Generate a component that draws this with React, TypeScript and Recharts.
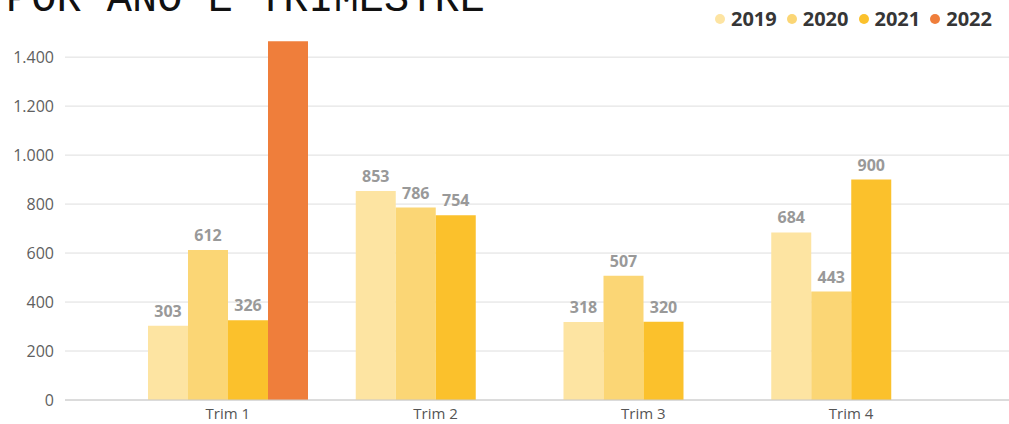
import React from "react";
import { BarChart, Bar, XAxis, YAxis, CartesianGrid, LabelList } from "recharts";

const categories = ["Trim 1", "Trim 2", "Trim 3", "Trim 4"];
const s2019 = [303, 853, 318, 684];
const s2020 = [612, 786, 507, 443];
const s2021 = [326, 754, 320, 900];
const s2022: (number | null)[] = [1465, null, null, null];
const yTicks = [0, 200, 400, 600, 800, 1000, 1200, 1400];

const seriesNames = ["2019", "2020", "2021", "2022"];
const colors = ["#FDE4A2", "#FBD675", "#FBC12C", "#EF7E3B"];

const data = categories.map((c, i) => ({
  cat: c,
  y2019: s2019[i],
  y2020: s2020[i],
  y2021: s2021[i],
  y2022: s2022[i],
}));

const fmt = (v: number) => v.toLocaleString("de-DE");

const LegendBox = () => (
  <div
    style={{
      position: "absolute",
      left: 715,
      top: 6,
      display: "flex",
      alignItems: "center",
      fontFamily: "'Open Sans', sans-serif",
      fontWeight: 700,
      fontSize: 20,
      lineHeight: "26px",
      color: "#363636",
    }}
  >
    {seriesNames.map((n, i) => (
      <div key={n} style={{ display: "flex", alignItems: "center", marginRight: 10 }}>
        <span style={{ display: "inline-block", width: 10, height: 10, borderRadius: 5, background: colors[i], marginRight: 6 }} />
        <span>{n}</span>
      </div>
    ))}
  </div>
);

const labelStyle = { fill: "#999999", fontSize: 16, fontWeight: 700, fontFamily: "'Open Sans', sans-serif" };

export default function App() {
  return (
    <div style={{ position: "absolute", left: 0, top: 0, width: 1009, height: 424, background: "#fff" }}>
      <BarChart
        width={1009}
        height={424}
        data={data}
        margin={{ top: 40, right: 0, left: 0, bottom: 0 }}
        barCategoryGap={24}
        barGap={0}
      >
        <CartesianGrid horizontal vertical={false} stroke="#dedede" syncWithTicks />
        <XAxis
          dataKey="cat"
          height={24}
          padding={{ left: 59, right: 54 }}
          tickLine={false}
          axisLine={{ stroke: "#c8c8c8" }}
          tick={{ fill: "#555555", fontSize: 15, fontFamily: "'Open Sans', sans-serif" }}
          tickMargin={2}
          interval={0}
        />
        <YAxis
          width={65}
          domain={[0, 1470]}
          ticks={yTicks}
          interval={0}
          axisLine={false}
          tickLine={false}
          tickMargin={5}
          tickFormatter={fmt}
          tick={{ fill: "#606060", fontSize: 16, fontFamily: "'Open Sans', sans-serif" }}
        />
        <Bar dataKey="y2019" name="2019" fill={colors[0]} isAnimationActive={false}>
          <LabelList dataKey="y2019" position="top" offset={9} formatter={fmt} style={labelStyle} />
        </Bar>
        <Bar dataKey="y2020" name="2020" fill={colors[1]} isAnimationActive={false}>
          <LabelList dataKey="y2020" position="top" offset={9} formatter={fmt} style={labelStyle} />
        </Bar>
        <Bar dataKey="y2021" name="2021" fill={colors[2]} isAnimationActive={false}>
          <LabelList dataKey="y2021" position="top" offset={9} formatter={fmt} style={labelStyle} />
        </Bar>
        <Bar dataKey="y2022" name="2022" fill={colors[3]} isAnimationActive={false} />
      </BarChart>
      <LegendBox />
      <svg width={1009} height={424} style={{ position: "absolute", left: 0, top: 0, pointerEvents: "none" }}>
        <text x={6} y={11} fontFamily="'Liberation Mono', monospace" fontSize={42} fill="#111111">
          POR ANO E TRIMESTRE
        </text>
      </svg>
    </div>
  );
}
